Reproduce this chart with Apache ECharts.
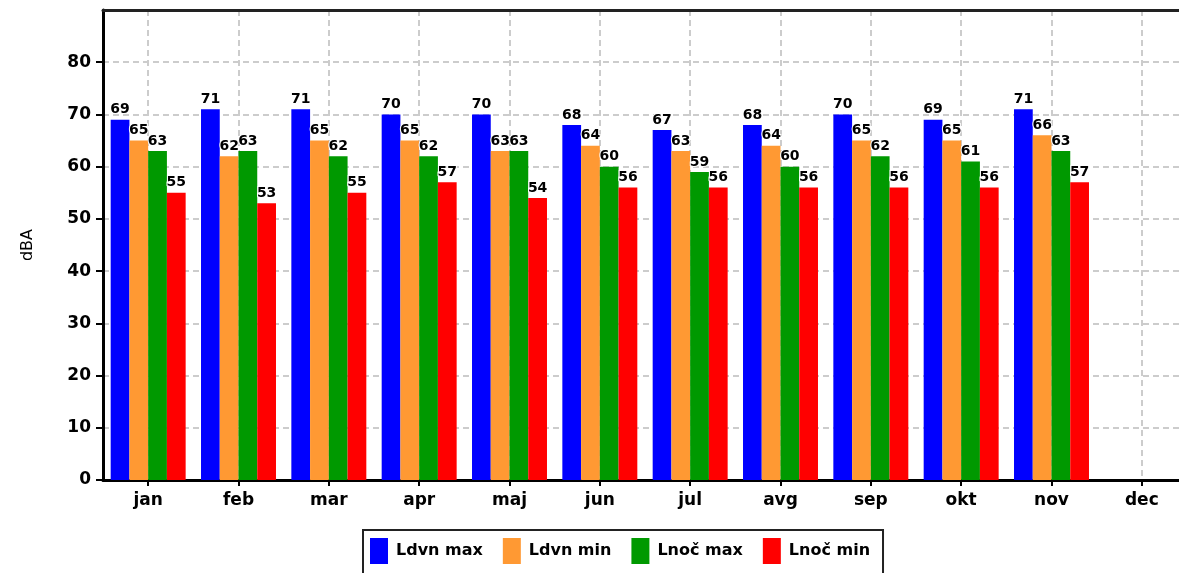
<!DOCTYPE html>
<html>
<head>
<meta charset="utf-8">
<script src="https://cdn.jsdelivr.net/npm/echarts@6/dist/echarts.min.js"></script>
<style>html,body{margin:0;padding:0;background:#fff;}#c{width:1179px;height:573px;}</style>
</head>
<body>
<div id="c"></div>
<script>
const categories = ['jan','feb','mar','apr','maj','jun','jul','avg','sep','okt','nov','dec'];
const seriesNames = ['Ldvn max','Ldvn min','Lnoč max','Lnoč min'];
const ldvnMax = [69,71,71,70,70,68,67,68,70,69,71,null];
const ldvnMin = [65,62,65,65,63,64,63,64,65,65,66,null];
const lnocMax = [63,63,62,62,63,60,59,60,62,61,63,null];
const lnocMin = [55,53,55,57,54,56,56,56,56,56,57,null];
const yTicks = [0,10,20,30,40,50,60,70,80];
const colors = ['#0000ff','#ff9933','#009900','#ff0000'];
const FONT = 'DejaVu Sans';

const chart = echarts.init(document.getElementById('c'));
const dataSets = [ldvnMax, ldvnMin, lnocMax, lnocMin];
chart.setOption({
  animation: false,
  backgroundColor: '#fff',
  grid: {left: 103, top: 10, right: -8, bottom: 93, outerBoundsMode: 'none', containLabel: false},
  legend: {
    left: 363, top: 530,
    data: seriesNames,
    icon: 'rect', itemWidth: 18, itemHeight: 26, itemGap: 20,
    padding: [8, 13, 20, 7],
    borderColor: '#222', borderWidth: 2,
    textStyle: {fontFamily: FONT, fontSize: 16, fontWeight: 'bold', color: '#000', padding: [0, 0, 0, 3]}
  },
  xAxis: [{
    type: 'category', data: categories,
    axisLine: {lineStyle: {color: '#000', width: 3}},
    axisTick: {show: true, alignWithLabel: true, length: 6, lineStyle: {color: '#000', width: 2}},
    axisLabel: {fontFamily: FONT, fontSize: 17, fontWeight: 'bold', color: '#000', margin: 12},
    splitLine: {show: true, alignWithLabel: true, lineStyle: {color: '#cccccc', width: 2, type: [6, 4]}}
  }, {
    type: 'category', data: categories, position: 'top', z: 10,
    axisLine: {show: true, lineStyle: {color: '#222', width: 3}},
    axisTick: {show: false}, axisLabel: {show: false}, splitLine: {show: false}
  }],
  yAxis: {
    type: 'value', min: 0, max: 90, interval: 10,
    name: 'dBA', nameLocation: 'middle', nameGap: 67,
    nameTextStyle: {fontFamily: FONT, fontSize: 16, color: '#000'},
    axisLine: {show: true, lineStyle: {color: '#000', width: 3}},
    axisTick: {show: true, length: 7, customValues: yTicks, lineStyle: {color: '#000', width: 2}},
    axisLabel: {fontFamily: FONT, fontSize: 17, fontWeight: 'bold', color: '#000', margin: 12,
      customValues: yTicks},
    splitLine: {show: true, lineStyle: {color: '#cccccc', width: 2, type: [6, 4]}}
  },
  series: dataSets.map((d, i) => ({
    name: seriesNames[i], type: 'bar', data: d, xAxisIndex: 0,
    barGap: '0%', barCategoryGap: '17%',
    itemStyle: {color: colors[i]},
    label: {show: true, position: 'top', distance: 3, fontFamily: FONT, fontSize: 14, fontWeight: 'bold',
      color: '#000', textBorderColor: '#fff', textBorderWidth: 2}
  }))
});
</script>
</body>
</html>
